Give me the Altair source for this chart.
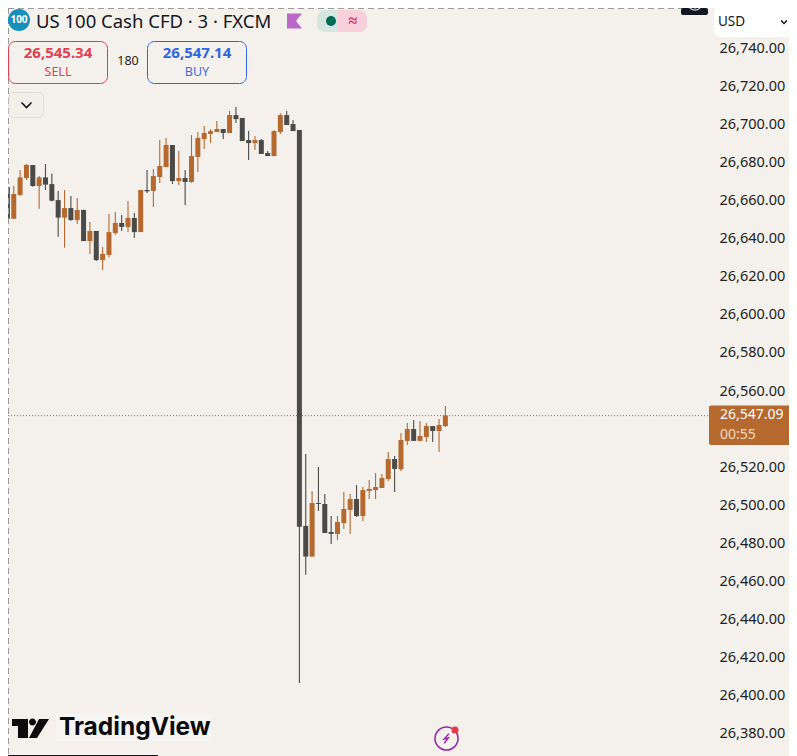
import altair as alt
import pandas as pd

highs = [26669.85,26667.6,26676.0,26679.1,26678.6,26672.8,26679.1,26674.2,26665.0,26665.5,
         26662.3,26661.3,26655.3,26648.7,26644.0,26635.6,26652.9,26653.9,26652.4,26659.7,
         26653.4,26665.5,26676.0,26676.5,26691.7,26692.8,26689.1,26685.9,26676.0,26694.3,
         26695.9,26699.1,26697.5,26701.7,26697.5,26706.9,26709.0,26703.3,26696.4,26693.8,
         26692.2,26685.9,26697.0,26705.7,26706.9,26702.2,26697.0,26526.9,26507.5,26520.1,
         26506.0,26494.4,26494.4,26507.0,26506.0,26510.7,26509.6,26513.3,26517.0,26516.4,
         26528.0,26525.9,26538.0,26543.2,26544.8,26544.3,26543.2,26541.6,26545.3,26552.1]
lows = [26644.1,26650.4,26662.3,26670.7,26667.2,26655.7,26665.5,26659.4,26641.0,26635.2,
        26649.4,26647.6,26638.7,26631.9,26628.2,26623.5,26630.0,26642.0,26644.0,26643.4,
        26640.3,26643.4,26663.9,26656.6,26669.2,26677.5,26668.6,26668.1,26657.6,26669.2,
        26674.9,26687.0,26690.1,26695.9,26692.2,26695.4,26700.6,26691.2,26681.2,26686.5,
        26684.4,26683.3,26683.3,26694.9,26699.6,26696.4,26406.8,26463.6,26473.1,26497.0,
        26485.5,26479.7,26481.8,26487.6,26485.0,26493.9,26491.8,26503.3,26503.3,26509.1,
        26512.8,26507.0,26518.0,26531.7,26533.8,26533.8,26533.2,26533.2,26528.0,26541.1]
opens = [26666.9,26650.4,26662.9,26671.8,26678.6,26667.6,26672.1,26668.6,26660.2,26651.0,
         26656.0,26649.7,26655.0,26638.7,26644.0,26628.7,26631.4,26642.9,26648.2,26646.1,
         26650.8,26643.4,26665.5,26665.0,26672.3,26677.5,26689.1,26670.2,26671.8,26669.7,
         26682.8,26692.2,26694.9,26695.9,26697.5,26695.4,26704.8,26703.3,26691.7,26690.1,
         26691.7,26684.9,26683.3,26695.9,26704.8,26700.1,26697.0,26489.2,26473.1,26501.2,
         26500.7,26486.0,26485.0,26490.7,26497.6,26503.3,26494.4,26507.5,26508.0,26509.1,
         26513.8,26524.3,26518.9,26533.8,26540.05,26533.8,26535.9,26541.6,26539.0,26541.6]
closes = [26650.4,26663.4,26672.1,26678.6,26667.6,26672.1,26668.3,26659.9,26651.0,26656.0,
          26649.7,26655.0,26638.7,26644.0,26628.7,26631.9,26643.4,26648.2,26646.1,26650.8,
          26643.4,26665.5,26664.8,26672.8,26678.1,26689.1,26670.2,26671.8,26669.7,26683.3,
          26692.8,26695.4,26696.4,26697.5,26695.4,26704.8,26702.7,26691.2,26690.1,26691.7,
          26684.4,26683.3,26696.4,26704.8,26699.6,26696.4,26488.8,26473.1,26501.2,26500.7,
          26485.5,26485.0,26491.2,26498.1,26503.3,26494.4,26508.0,26508.6,26509.6,26514.3,
          26524.3,26519.1,26534.3,26540.05,26533.8,26536.4,26541.6,26539.0,26542.2,26547.09]
price_ticks = [26380,26400,26420,26440,26460,26480,26500,26520,26560,26580,
               26600,26620,26640,26660,26680,26700,26720,26740]
last_price = [26547.09]
title_text = "US 100 Cash CFD · 3 · FXCM"

FONT = "Noto Sans"
ORANGE = "#b5692e"
DARK = "#4a4a48"
BG = "#f4f0ec"
W, H = 781, 748

df = pd.DataFrame({"i": range(len(opens)), "open": opens, "high": highs, "low": lows, "close": closes})
df["dir"] = ["up" if c >= o else "down" for o, c in zip(opens, closes)]

xs = alt.Scale(domain=[0.8818, 0.8818 + W / 6.43], nice=False, zero=False)
ys = alt.Scale(domain=[26368.45, 26761.0], nice=False, zero=False)
col = alt.Color("dir:N", scale=alt.Scale(domain=["up", "down"], range=[ORANGE, DARK]), legend=None)
X = alt.X("i:Q", scale=xs, axis=None)
AX = alt.Axis(
    orient="right", offset=-(W - 711), values=price_ticks, format=",.2f", domain=False, ticks=False,
    grid=False, labelPadding=0, labelFont=FONT, labelFontSize=14.5, labelColor="#222222",
    labelAlign="left", labelBaseline="middle", title=None, labelOverlap=False)


def Y(field):
    return alt.Y(field, scale=ys, axis=AX)


wicks = alt.Chart(df).mark_rule(strokeWidth=1.1, clip=True).encode(
    x=X, y=Y("low:Q"), y2="high:Q", color=col)
bodies = alt.Chart(df).mark_bar(size=5, clip=True).encode(
    x=X, y=Y("open:Q"), y2="close:Q", color=col)

price_line = alt.Chart(pd.DataFrame({"p": last_price})).mark_rule(
    strokeWidth=1, strokeDash=[1, 2], color=ORANGE).encode(
    y=Y("p:Q"), x=alt.value(0), x2=alt.value(700))


def bx(x0, x1, y0, y1, fill, stroke=None, r=0, sw=1):
    kw = dict(fill=fill, cornerRadius=r)
    if stroke:
        kw.update(stroke=stroke, strokeWidth=sw)
    return alt.Chart(pd.DataFrame({"a": [0]})).mark_rect(**kw).encode(
        x=alt.value(x0 - 8), x2=alt.value(x1 - 8), y=alt.value(y0 - 8), y2=alt.value(y1 - 8))


def txt(s, x, y, size, color, weight="normal", align="left", font=FONT):
    return alt.Chart(pd.DataFrame({"a": [0]})).mark_text(
        fontSize=size, color=color, fontWeight=weight, align=align, baseline="middle", font=font).encode(
        x=alt.value(x - 8), y=alt.value(y - 8), text=alt.value(s))


def sym(shape, x, y, size, fill=None, stroke=None, sw=1):
    kw = dict(shape=shape, size=size, opacity=1)
    if fill:
        kw.update(filled=True, fill=fill, strokeWidth=0)
    else:
        kw.update(filled=False, stroke=stroke, strokeWidth=sw, fillOpacity=0)
    return alt.Chart(pd.DataFrame({"a": [0]})).mark_point(**kw).encode(
        x=alt.value(x - 8), y=alt.value(y - 8))


CHEV = "M-1,-0.5L0,0.5L1,-0.5"
TV = ("M-0.9,-0.475L-0.1,-0.475L-0.1,0.475L-0.6,0.475L-0.6,-0.125L-0.9,-0.125Z"
      "M0.45,-0.475L0.95,-0.475L0.35,0.475L-0.05,0.475Z"
      "M0.3,-0.325A0.175,0.175 0 1 1 -0.05,-0.325A0.175,0.175 0 1 1 0.3,-0.325Z")
FLAG = "M-1,-1L1,-1L0.2,0L1,1L-1,1Z"
BOLT = "M0.45,-0.9L-0.45,0.1L0.35,-0.1L-0.45,0.9"

deco = [
    alt.Chart(pd.DataFrame({"a": [0]})).mark_rule(strokeDash=[6, 4], color="#9a9a9a", strokeWidth=1).encode(
        x=alt.value(0.5), y=alt.value(0), y2=alt.value(H)),
    alt.Chart(pd.DataFrame({"a": [0]})).mark_rule(strokeDash=[6, 4], color="#9a9a9a", strokeWidth=1).encode(
        y=alt.value(0.5), x=alt.value(0), x2=alt.value(700)),
    sym("circle", 19, 20, 484, fill="#1390bb"),
    txt("100", 19, 20, 10, "#ffffff", "bold", "center"),
    txt(title_text, 36, 21.5, 18.5, "#131722"),
    sym(FLAG, 294.5, 21, 225, fill="#ba68c8"),
    bx(317, 345, 10, 32, "#d5e6e0", r=8),
    bx(342, 367, 10, 32, "#f8cfdb", r=8),
    bx(338, 348, 10, 32, "#f8cfdb"),
    sym("circle", 331, 21, 100, fill="#006b57"),
    txt("≈", 353, 21, 16, "#d81b60", "bold", "center"),
    bx(8.5, 107.5, 41.5, 83.5, BG, stroke="#e6394f", r=7),
    txt("26,545.34", 58, 53, 15, "#e0404f", "bold", "center"),
    txt("SELL", 58, 72, 12.5, "#e0404f", "normal", "center"),
    txt("180", 128, 61, 12.5, "#222222", "normal", "center"),
    bx(147.5, 246.5, 41.5, 83.5, BG, stroke="#2f66e0", r=7),
    txt("26,547.14", 197, 53, 15, "#2f66e0", "bold", "center"),
    txt("BUY", 197, 72, 12.5, "#3a6fdc", "normal", "center"),
    bx(9, 43.5, 92.5, 117.5, "#f2eeea", stroke="#e0dcd8", r=4),
    sym(CHEV, 26.5, 105, 100, stroke="#131722", sw=1.6),
    bx(681, 708, 8, 15, "#131722", r=2),
    sym("circle", 695, 3, 200, stroke="#c8c8c8", sw=1.2),
    bx(694.5, 695.5, 8, 9, "#c8c8c8"),
    bx(714, 792, 7, 37, "#ffffff", r=6),
    txt("USD", 718, 22, 13.5, "#131722"),
    sym(CHEV, 784, 22, 36, stroke="#131722", sw=1.5),
    bx(709, 792, 405.5, 445, ORANGE, r=2),
    txt("26,547.09", 720, 415, 14, "#ffffff", "normal"),
    txt("00:55", 720, 435, 14, "#f3d9c2", "normal"),
    bx(56, 211, 714, 741, "#f7f5f3"),
    sym(TV, 30, 728.5, 1600, fill="#0b0b0b"),
    txt("TradingView", 59, 728, 24.5, "#0b0b0b", "bold", font="Inter"),
    sym("circle", 446.5, 738.5, 530, stroke="#9c27b0", sw=1.6),
    sym(BOLT, 446.5, 738.5, 110, stroke="#9c27b0", sw=1.4),
    sym("circle", 455, 730, 50, fill="#e53945"),
    alt.Chart(pd.DataFrame({"a": [0]})).mark_rule(color="#131722", strokeWidth=1).encode(
        y=alt.value(747.5), x=alt.value(0), x2=alt.value(150)),
]

chart = alt.layer(price_line, wicks, bodies, *deco).properties(
    width=W, height=H, background=BG, padding=0,
    autosize=alt.AutoSizeParams(type="none"),
).configure_view(stroke=None)

chart.save("out.html", embed_options={"renderer": "svg", "actions": False})
